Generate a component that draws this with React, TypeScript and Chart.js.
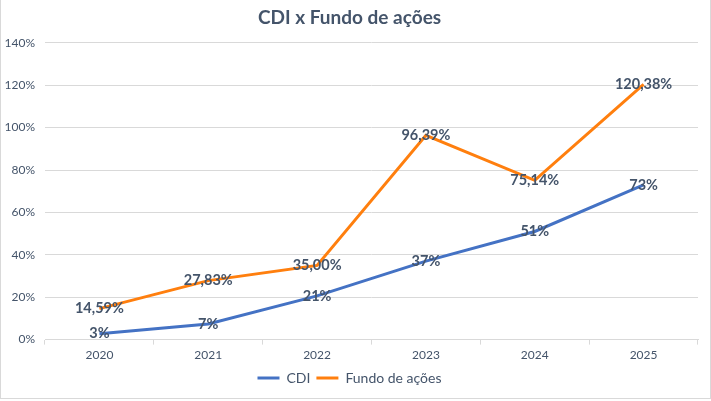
import Chart from 'chart.js/auto';
import { useEffect, useRef } from 'react';

const years = ['2020', '2021', '2022', '2023', '2024', '2025'];
const cdi = [2.8, 7.4, 20.6, 37, 51, 73];
const fundo = [14.59, 27.83, 35.0, 96.39, 75.14, 120.38];
const yTicks = [0, 20, 40, 60, 80, 100, 120, 140];

const slate = '#44546A';
const gridGray = '#D9D9D9';

// draws the value labels right on top of each point, like the Excel chart does
const pointLabels = {
	id: 'pointLabels',
	afterDatasetsDraw(chart: Chart) {
		const ctx = chart.ctx;
		ctx.save();
		ctx.font = 'bold 14.5px Lato';
		ctx.fillStyle = slate;
		ctx.textAlign = 'center';
		ctx.textBaseline = 'middle';
		chart.data.datasets.forEach((ds, i) => {
			const meta = chart.getDatasetMeta(i);
			meta.data.forEach((pt, j) => {
				const v = ds.data[j] as number;
				const txt = i === 0 ? Math.round(v) + '%' : v.toFixed(2).replace('.', ',') + '%';
				ctx.fillText(txt, pt.x, pt.y);
			});
		});
		ctx.restore();
	},
};

export default function App() {
	const canvasRef = useRef<HTMLCanvasElement>(null);

	useEffect(() => {
		if (!canvasRef.current) return;
		const chart = new Chart(canvasRef.current, {
			type: 'line',
			data: {
				labels: years,
				datasets: [
					{
						label: 'CDI',
						data: cdi,
						borderColor: '#4472C4',
						backgroundColor: '#4472C4',
						borderWidth: 3,
						pointRadius: 0,
					},
					{
						label: 'Fundo de ações',
						data: fundo,
						borderColor: '#FF7F0E',
						backgroundColor: '#FF7F0E',
						borderWidth: 3,
						pointRadius: 0,
					},
				],
			},
			options: {
				animation: false,
				responsive: true,
				maintainAspectRatio: false,
				layout: { padding: { left: 0, right: 12, top: 4, bottom: 3 } },
				plugins: {
					title: {
						display: true,
						text: 'CDI x Fundo de ações',
						color: slate,
						font: { family: 'Lato', size: 19, weight: 'bold' },
						padding: { top: 2, bottom: 14 },
					},
					legend: {
						position: 'bottom',
						labels: {
							usePointStyle: true,
							pointStyle: 'line',
							pointStyleWidth: 22,
							color: slate,
							font: { family: 'Lato', size: 14 },
							padding: 6,
						},
					},
					tooltip: { enabled: false },
				},
				scales: {
					x: {
						offset: true,
						grid: {
							drawOnChartArea: false,
							drawTicks: true,
							tickLength: 5,
							color: gridGray,
							offset: true,
						},
						border: { display: true, color: gridGray },
						ticks: { color: slate, font: { family: 'Lato', size: 12 }, padding: 3 },
					},
					y: {
						min: 0,
						max: 140,
						afterBuildTicks(scale) {
							scale.ticks = yTicks.map((v) => ({ value: v }));
						},
						afterFit(scale) {
							scale.width = 44;
						},
						grid: { color: gridGray, drawTicks: false },
						border: { display: false },
						ticks: {
							color: slate,
							font: { family: 'Lato', size: 12 },
							padding: 10,
							callback: (v) => v + '%',
						},
					},
				},
			},
			plugins: [pointLabels],
		});
		return () => chart.destroy();
	}, []);

	return (
		<div
			style={{
				position: 'absolute',
				left: 0,
				top: 0,
				width: 709,
				height: 398,
				borderLeft: '1px solid ' + gridGray,
				borderRight: '1px solid ' + gridGray,
				borderBottom: '1px solid ' + gridGray,
				background: '#fff',
			}}
		>
			<canvas ref={canvasRef}></canvas>
		</div>
	);
}
